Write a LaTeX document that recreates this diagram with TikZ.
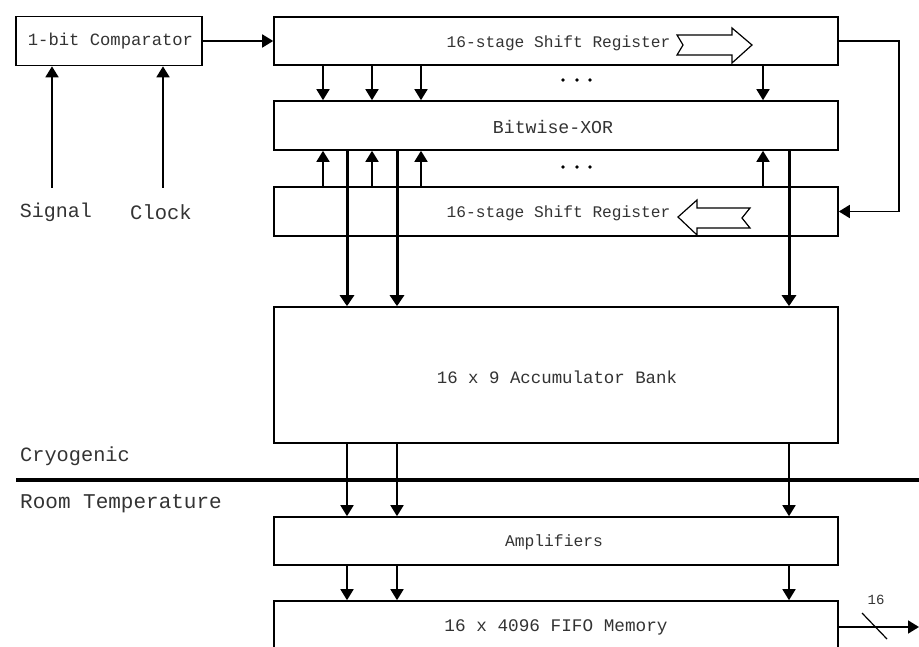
\documentclass[tikz,border=0pt]{standalone}
\usepackage{fontspec}
\setmainfont{Liberation Mono}
\usetikzlibrary{arrows.meta}
\newcommand{\fsz}[1]{\fontsize{#1}{#1}\selectfont}
\begin{document}
\begin{tikzpicture}[x=1pt,y=-1pt,
  box/.style={draw, line width=1.6pt, inner sep=0pt, fill=white},
  lbl/.style={text=black!80, inner sep=0pt},
  arr/.style={line width=1.8pt, -{Triangle[width=13pt,length=11pt]}},
  thickarr/.style={line width=3pt, -{Triangle[width=14pt,length=11pt]}},
  thinln/.style={line width=1.2pt},
  hollow/.style={draw, line width=1.2pt, fill=white, line join=miter}
]
\useasboundingbox (0,0) rectangle (919,647);

% boxes
\node[box, minimum width=186pt, minimum height=49pt] (cmp) at (109,41) {};
\node[box, minimum width=564pt, minimum height=48pt] (sr1) at (556,41) {};
\node[box, minimum width=564pt, minimum height=49pt] (xor) at (556,125.5) {};
\node[box, minimum width=564pt, minimum height=49pt] (sr2) at (556,211.5) {};
\node[box, minimum width=564pt, minimum height=136pt] (acc) at (556,375) {};
\node[box, minimum width=564pt, minimum height=48pt] (amp) at (556,541) {};
\node[box, minimum width=564pt, minimum height=52pt] (fifo) at (556,627) {};

% texts
\node[lbl, font=\fsz{17.2}] (cmpt) at (110.5,41) {1-bit Comparator};
\node[lbl, font=\fsz{16.2}] (t1) at (558.5,43) {16-stage Shift Register};
\node[lbl, font=\fsz{18.2}] (t2) at (553,127) {Bitwise-XOR};
\node[lbl, font=\fsz{16.2}] (t3) at (558.5,213) {16-stage Shift Register};
\node[lbl, font=\fsz{17.4}] (t4) at (557,377) {16 x 9 Accumulator Bank};
\node[lbl, font=\fsz{16.3}] (t5) at (554,542) {Amplifiers};
\node[lbl, font=\fsz{17.7}] (t6) at (556,627) {16 x 4096 FIFO Memory};
\node[lbl, font=\fsz{20}] (sig) at (56,212) {Signal};
\node[lbl, font=\fsz{20.5}] (clk) at (161,212) {Clock};
\node[lbl, font=\fsz{20.3}, anchor=west] (cryo) at (20,456) {Cryogenic};
\node[lbl, font=\fsz{21}, anchor=west] (room) at (20,504) {Room Temperature};
\node[lbl, font=\fsz{14}] (n16) at (876,600) {16};

% hollow shift arrows
\draw[hollow] (677,35) -- (732,35) -- (732,28) -- (752,45) -- (732,63) -- (732,55) -- (677,55) -- (683,45) -- cycle;
\draw[hollow] (678,217) -- (697,200) -- (697,208) -- (750,208) -- (742,218) -- (750,228) -- (697,228) -- (697,235) -- cycle;

% dots
\foreach \dx in {563,577,590} {
  \fill (\dx,80) circle (1.8);
  \fill (\dx,167) circle (1.8);
}

% column coordinates
\coordinate (a1) at (323,0);
\coordinate (a2) at (372,0);
\coordinate (a3) at (421,0);
\coordinate (a4) at (763,0);
\coordinate (b1) at (347,0);
\coordinate (b2) at (397,0);
\coordinate (b3) at (789,0);
\coordinate (sigS) at (52,188);
\coordinate (clkS) at (163,188);
\coordinate (sepL) at (16,480);
\coordinate (sepR) at (919,480);
\coordinate (outE) at (919,627);
\coordinate (slA) at (862,613);
\coordinate (slB) at (887,639);

% comparator inputs/outputs
\draw[arr] (sigS) -- (sigS |- cmp.south);
\draw[arr] (clkS) -- (clkS |- cmp.south);
\draw[arr] (cmp.east) -- (sr1.west);

% feedback
\draw[arr, line join=miter] (sr1.east) -- ++(60,0) |- (sr2.east);

% SR1 -> XOR, SR2 -> XOR
\foreach \c in {a1,a2,a3,a4} {
  \draw[arr] (\c |- sr1.south) -- (\c |- xor.north);
  \draw[arr] (\c |- sr2.north) -- (\c |- xor.south);
}

% XOR -> accumulator (thick)
\foreach \c in {b1,b2,b3} {
  \draw[thickarr] (\c |- xor.south) -- (\c |- acc.north);
}

% separator
\draw[line width=3.5pt] (sepL) -- (sepR);

% accumulator -> amplifiers -> fifo
\foreach \c in {b1,b2,b3} {
  \draw[arr] (\c |- acc.south) -- (\c |- amp.north);
  \draw[arr] (\c |- amp.south) -- (\c |- fifo.north);
}

% output
\draw[arr] (fifo.east) -- (outE);
\draw[thinln] (slA) -- (slB);
\end{tikzpicture}
\end{document}
